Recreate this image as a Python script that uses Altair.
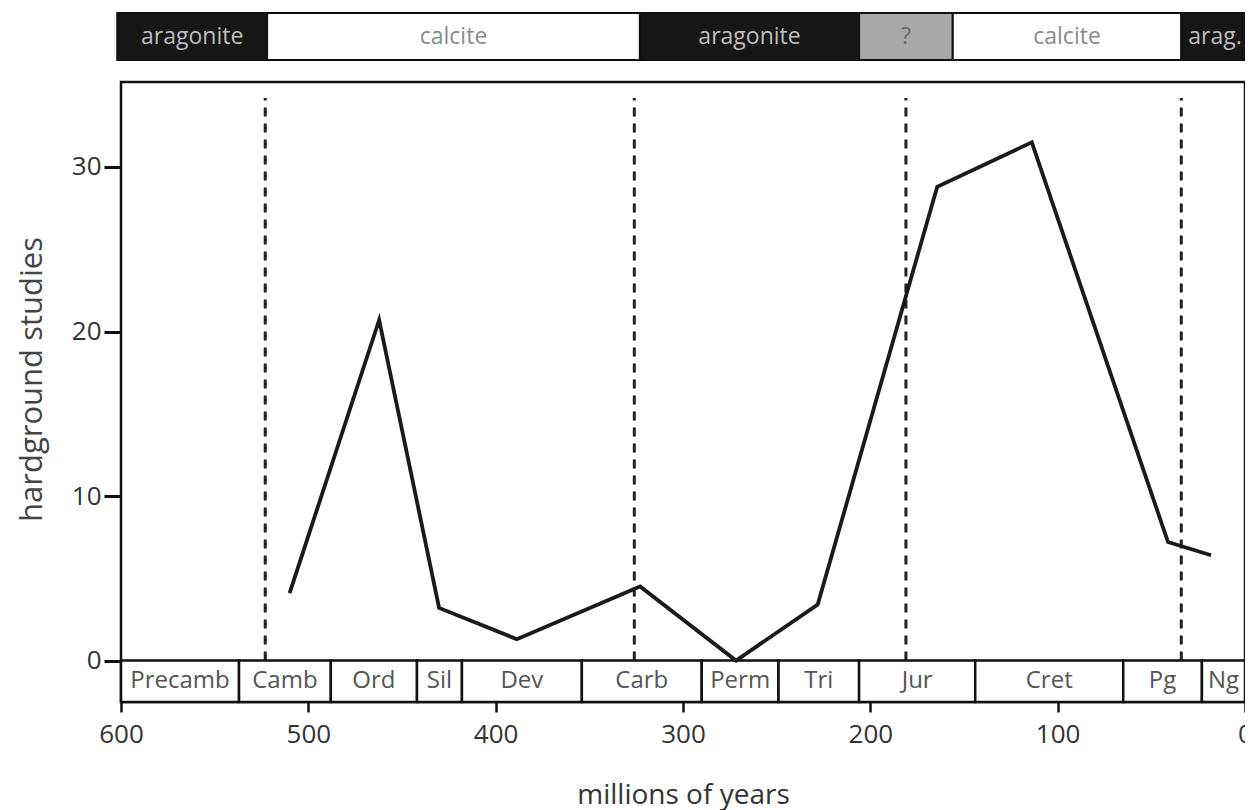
import altair as alt
import pandas as pd

# ---- data ----
ages = [510.0, 462.2, 430.2, 388.7, 322.9, 271.7, 228.1, 164.3, 113.8, 41.1, 18.1]
studies = [4.1, 20.7, 3.2, 1.3, 4.5, 0.0, 3.4, 28.8, 31.5, 7.2, 6.4]

period_names = ["Precamb", "Camb", "Ord", "Sil", "Dev", "Carb", "Perm", "Tri", "Jur", "Cret", "Pg", "Ng"]
period_start = [600, 537, 488, 442, 418, 354, 290, 249, 206, 144, 65, 23]
period_end = [537, 488, 442, 418, 354, 290, 249, 206, 144, 65, 23, 0]

mineral_names = ["aragonite", "calcite", "aragonite", "?", "calcite", "arag."]
mineral_start = [602, 522, 323, 206, 156, 34]
mineral_end = [522, 323, 206, 156, 34, -2]
mineral_fill = ["#161616", "#ffffff", "#161616", "#a8a8a8", "#ffffff", "#161616"]
mineral_text = ["#bdbdbd", "#8a8a8a", "#bdbdbd", "#6a6a6a", "#8a8a8a", "#bdbdbd"]

boundaries = [523, 326, 181, 34]

x_ticks = [600, 500, 400, 300, 200, 100, 0]
y_ticks = [0, 10, 20, 30]

# ---- layout constants (data units) ----
Y_MIN, Y_MAX = -2.52, 39.36
FRAME_TOP = 35.17
BAND_BOTTOM, BAND_TOP = 36.5, 39.36
DASH_TOP = 34.2
FONT = "Open Sans"

line_df = pd.DataFrame({"age": ages, "n": studies})
per_df = pd.DataFrame({"name": period_names, "start": period_start, "end": period_end})
per_df["mid"] = (per_df["start"] + per_df["end"]) / 2
per_df["y0"] = Y_MIN
per_df["y1"] = 0.0
per_df["ym"] = Y_MIN / 2

min_df = pd.DataFrame({"name": mineral_names, "start": mineral_start, "end": mineral_end,
                       "fill": mineral_fill, "tcol": mineral_text})
min_df["mid"] = (min_df["start"] + min_df["end"]) / 2
min_df["y0"] = BAND_BOTTOM
min_df["y1"] = BAND_TOP
min_df["ym"] = (BAND_BOTTOM + BAND_TOP) / 2

dash_df = pd.DataFrame({"age": boundaries, "y0": 0.0, "y1": DASH_TOP})
frame_df = pd.DataFrame({"a0": [600], "a1": [0], "y0": [Y_MIN], "y1": [FRAME_TOP]})

xs = alt.Scale(domain=[600, 0], nice=False, zero=False)
ys = alt.Scale(domain=[Y_MIN, Y_MAX], nice=False, zero=False)

x_axis = alt.Axis(values=x_ticks, domain=False, grid=False, tickSize=10, tickWidth=2.5,
                  tickColor="#111", labelFont=FONT, labelFontSize=26, labelColor="#333",
                  labelPadding=9, title="millions of years", titleFont=FONT, titleFontSize=28,
                  titleFontWeight="normal", titleColor="#333", titlePadding=34, labelFlush=False)
y_axis = alt.Axis(values=y_ticks, domain=False, grid=False, tickSize=17, tickWidth=3,
                  tickColor="#111", labelFont=FONT, labelFontSize=26, labelColor="#333",
                  labelPadding=3, title="hardground studies", titleFont=FONT, titleFontSize=31,
                  titleFontWeight="normal", titleColor="#444", titleX=-73, titleY=366)


def X(field):
    return alt.X(field, scale=xs, axis=x_axis, title="millions of years")


def Y(field):
    return alt.Y(field, scale=ys, axis=y_axis, title="hardground studies")


base_line = alt.Chart(line_df).mark_line(color="#1a1a1a", strokeWidth=3.8, strokeJoin="miter").encode(
    x=X("age:Q"), y=Y("n:Q"),
)

frame = alt.Chart(frame_df).mark_rect(fill="white", fillOpacity=0, stroke="#111", strokeWidth=2.5).encode(
    x=X("a0:Q"), x2="a1:Q", y=Y("y0:Q"), y2="y1:Q",
)

periods = alt.Chart(per_df).mark_rect(fill="white", stroke="#111", strokeWidth=2.5).encode(
    x=X("start:Q"), x2="end:Q", y=Y("y0:Q"), y2="y1:Q",
)
period_text = alt.Chart(per_df).mark_text(font=FONT, fontSize=24, color="#555").encode(
    x=X("mid:Q"), y=Y("ym:Q"), text="name:N",
)

minerals = alt.Chart(min_df).mark_rect(stroke="#111", strokeWidth=2).encode(
    x=X("start:Q"), x2="end:Q", y=Y("y0:Q"), y2="y1:Q",
    fill=alt.Fill("fill:N", scale=None),
)
mineral_txt = alt.Chart(min_df).mark_text(font=FONT, fontSize=23).encode(
    x=X("mid:Q"), y=Y("ym:Q"), text="name:N",
    color=alt.Color("tcol:N", scale=None),
)

dashes = alt.Chart(dash_df).mark_rule(color="#222", strokeWidth=3, strokeDash=[9, 7]).encode(
    x=X("age:Q"), y=Y("y0:Q"), y2="y1:Q",
)

chart = alt.layer(
    frame, dashes, periods, period_text, minerals, mineral_txt, base_line
).properties(
    width=1124, height=689,
    autosize=alt.AutoSizeParams(type="none"),
    padding={"left": 113, "top": 5, "right": 0, "bottom": 112},
    background="white",
).configure_view(stroke=None)

chart.save("out.html", embed_options={"renderer": "svg", "actions": False})
